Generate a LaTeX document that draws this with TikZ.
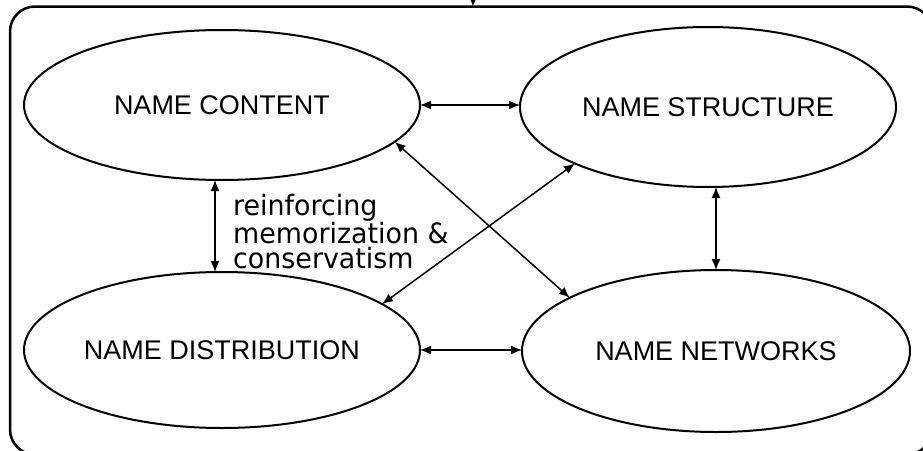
\documentclass[tikz,border=0pt]{standalone}
\usepackage{fontspec}
\setmainfont{Liberation Sans}
\newfontfamily\annfont[FakeStretch=0.96]{DejaVu Sans}
\usetikzlibrary{shapes.geometric,arrows.meta}
\tikzset{
  ell/.style={ellipse, draw, line width=2pt, inner sep=0pt, outer sep=0pt,
    font=\fontsize{27}{32}\selectfont},
  arr/.style={{Latex[length=11pt,width=9pt]}-{Latex[length=11pt,width=9pt]}, line width=1.5pt},
  frm/.style={draw, line width=2.5pt, rounded corners=25pt, inner sep=0pt, outer sep=0pt}
}
\begin{document}
\begin{tikzpicture}[x=1pt,y=-1pt]
\useasboundingbox (0,0) rectangle (923,450);
\node[frm, minimum width=922pt, minimum height=448pt] (frame) at (471,230.5) {};
\coordinate (src) at (473,-40);
\draw[-{Latex[length=8pt,width=7pt]}, line width=1.4pt] (src) -- (src |- frame.north);

\node[ell, minimum width=396pt, minimum height=150pt] (content) at (222,105) {NAME CONTENT};
\node[ell, minimum width=376pt, minimum height=160pt] (structure) at (708,107) {NAME STRUCTURE};
\node[ell, minimum width=396pt, minimum height=156pt] (dist) at (222,350) {NAME DISTRIBUTION};
\node[ell, minimum width=388pt, minimum height=162pt] (net) at (716,351) {NAME NETWORKS};

\draw[arr] (content.east) -- (content.east -| structure.west);
\draw[arr] (dist.east) -- (dist.east -| net.west);
\draw[arr] ([xshift=-7pt]content.south) -- ([xshift=-7pt]dist.north);
\draw[arr] (structure.south -| net.north) -- (net.north);
\draw[arr] (content.-12) -- (net.160);
\draw[arr] (structure.-157) -- (dist.16);

\node[anchor=north west, inner sep=0pt, align=left,
  font=\annfont\fontsize{28}{25}\selectfont] (ann) at (233,194)
  {reinforcing\\memorization \&\\conservatism};
\end{tikzpicture}
\end{document}
